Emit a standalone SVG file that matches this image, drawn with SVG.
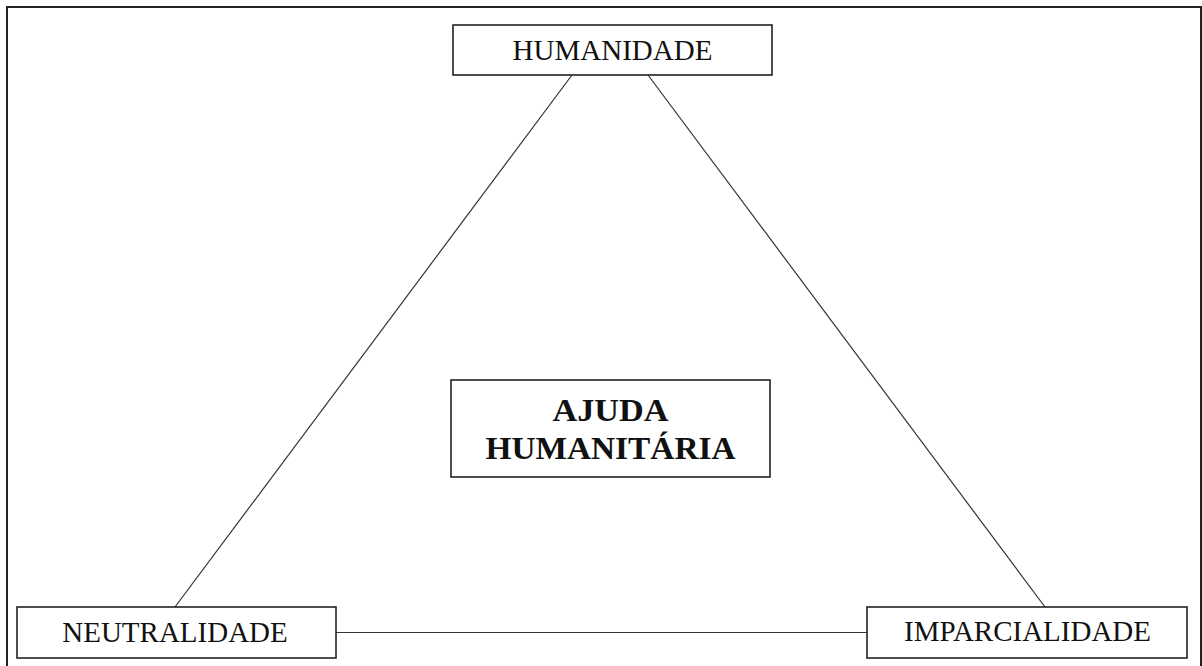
<svg xmlns="http://www.w3.org/2000/svg" width="1202" height="666" viewBox="0 0 1202 666">
<style>
.box{fill:#fff;stroke:#222;stroke-width:1.6}
.lbl{font-family:"Liberation Serif","Times New Roman",serif;font-size:29px;fill:#111;text-anchor:middle}
.bold{font-weight:bold;font-size:31px}
.conn{stroke:#333;stroke-width:1.2;fill:none}
</style>
<rect x="0" y="0" width="1202" height="666" fill="#fff"/>
<path d="M7,666 V7 H1201 V666" fill="none" stroke="#222" stroke-width="2"/>
<g id="connectors">
<line class="conn" x1="572" y1="75" x2="175" y2="607"/>
<line class="conn" x1="648" y1="75" x2="1045" y2="607"/>
<line class="conn" x1="336" y1="632.5" x2="867" y2="632.5"/>
</g>
<g id="humanidade">
<rect class="box" x="453" y="25" width="319" height="50"/>
<text class="lbl" x="612.5" y="60">HUMANIDADE</text>
</g>
<g id="ajuda">
<rect class="box" x="451" y="380" width="319" height="97"/>
<text class="lbl bold" x="610.5" y="421" textLength="116" lengthAdjust="spacingAndGlyphs">AJUDA</text>
<text class="lbl bold" x="610.5" y="459" textLength="250" lengthAdjust="spacingAndGlyphs">HUMANITÁRIA</text>
</g>
<g id="neutralidade">
<rect class="box" x="17" y="607" width="319" height="51"/>
<text class="lbl" x="175" y="642">NEUTRALIDADE</text>
</g>
<g id="imparcialidade">
<rect class="box" x="867" y="607" width="320" height="51"/>
<text class="lbl" x="1027.5" y="641">IMPARCIALIDADE</text>
</g>
</svg>
